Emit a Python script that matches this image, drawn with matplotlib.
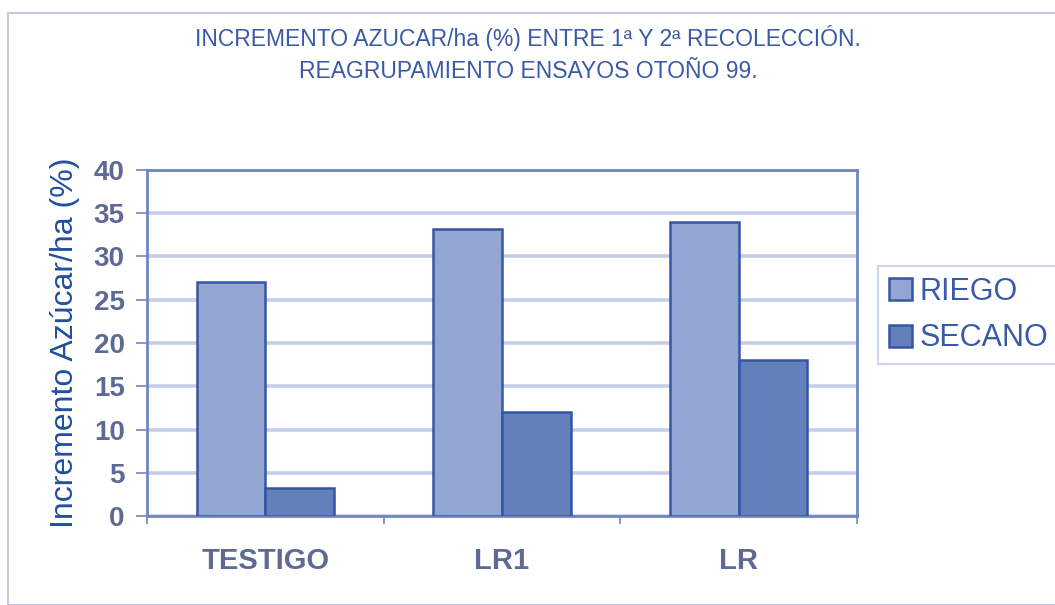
import matplotlib
matplotlib.use("Agg")
import matplotlib.pyplot as plt
import numpy as np
from matplotlib.patches import Rectangle

plt.rcParams["font.family"] = ["Liberation Sans", "DejaVu Sans"]

# ── Data ──────────────────────────────────────────────────────────────────────
categories = ["TESTIGO", "LR1", "LR"]
riego = [27.0, 33.2, 34.0]
secano = [3.2, 12.0, 18.0]
series_names = ["RIEGO", "SECANO"]
y_ticks = [0, 5, 10, 15, 20, 25, 30, 35, 40]

title_lines = [
    "INCREMENTO AZUCAR/ha (%) ENTRE 1ª Y 2ª RECOLECCIÓN.",
    "REAGRUPAMIENTO ENSAYOS OTOÑO 99.",
]

# ── Styles ────────────────────────────────────────────────────────────────────
C_RIEGO = "#93a5d1"
C_SECANO = "#6380ba"
C_EDGE = "#3556a6"
C_AXIS = "#6f86c0"
C_GRID = "#c5cee8"
C_TICK = "#5e6a94"
C_TEXT = "#3a5aa8"

W, H = 1055, 605
fig = plt.figure(figsize=(W / 100, H / 100), dpi=100, facecolor="white")

# outer frame
fig.patches.append(Rectangle((8 / W, 0), 1.0, 1 - 13 / H, transform=fig.transFigure,
                             fill=False, edgecolor="#c3cbe6", linewidth=1.5))

ax = fig.add_axes([147 / W, 1 - 516 / H, 710 / W, 346 / H])

x = np.arange(len(categories))
bw = 0.29
ax.bar(x - bw / 2, riego, bw, color=C_RIEGO, edgecolor=C_EDGE, linewidth=1.8,
       label=series_names[0], zorder=3)
ax.bar(x + bw / 2, secano, bw, color=C_SECANO, edgecolor=C_EDGE, linewidth=1.8,
       label=series_names[1], zorder=3)

ax.set_xlim(-0.5, len(categories) - 0.5)
ax.set_ylim(0, 40)
ax.set_yticks(y_ticks)
ax.set_yticklabels([str(v) for v in y_ticks], fontsize=20, fontweight="bold", color=C_TICK)
ax.set_xticks(x)
ax.set_xticklabels(categories, fontsize=21, fontweight="bold", color=C_TICK)
ax.tick_params(axis="x", length=0, pad=22)
ax.tick_params(axis="y", length=8, width=1.2, color=C_AXIS, pad=8)

# category separator ticks under the x axis
ax.set_xticks(np.arange(len(categories) + 1) - 0.5, minor=True)
ax.tick_params(axis="x", which="minor", length=6, width=1.2, color=C_AXIS)

ax.yaxis.grid(True, color=C_GRID, linewidth=2.6, zorder=0)
ax.set_axisbelow(True)
for s in ax.spines.values():
    s.set_color(C_AXIS)
    s.set_linewidth(2)

ax.set_ylabel("Incremento Azúcar/ha (%)", fontsize=23, color="#1f4f9e", labelpad=10)

# title
fig.text(528 / W, 1 - 38 / H, title_lines[0], ha="center", va="center",
         fontsize=16.5, color=C_TEXT)
fig.text(528 / W, 1 - 72 / H, title_lines[1], ha="center", va="center",
         fontsize=16.5, color=C_TEXT)

leg = fig.legend(loc="center left", bbox_to_anchor=(878 / W, 1 - 315 / H),
                 fontsize=22, frameon=True, fancybox=False, handlelength=0.75,
                 handleheight=0.75, handletextpad=0.25, labelspacing=0.55,
                 borderpad=0.35, borderaxespad=0, labelcolor=C_TEXT)
leg.get_frame().set_edgecolor("#c3cbe6")
leg.get_frame().set_linewidth(1.5)

fig.savefig("out.png", dpi=100, facecolor="white")
